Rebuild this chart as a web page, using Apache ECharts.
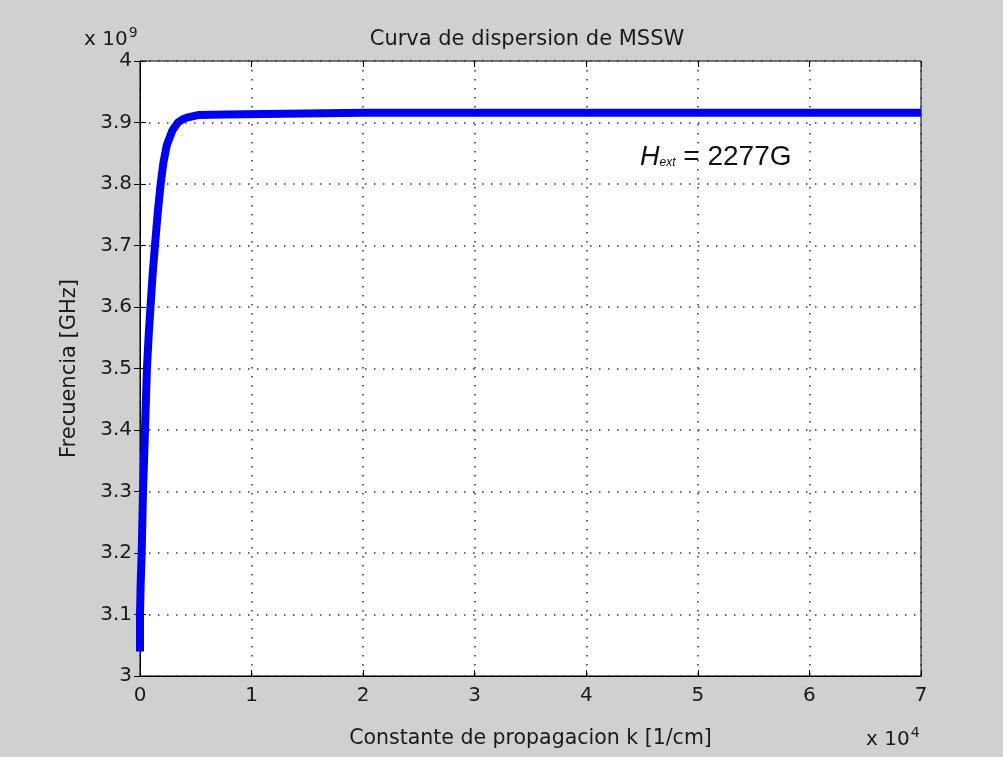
<!DOCTYPE html>
<html>
<head>
<meta charset="utf-8">
<script src="https://cdn.jsdelivr.net/npm/echarts@6/dist/echarts.min.js"></script>
<style>
  html, body { margin: 0; padding: 0; background: #d0d0d0; }
  #chart { width: 1003px; height: 757px; }
</style>
</head>
<body>
<div id="chart"></div>
<script>
// Wave number k [1/cm] and frequency [Hz] along the MSSW dispersion curve
const kValues = [0, 0, 60, 150, 270, 450, 620, 780, 940, 1140, 1340, 1600, 1850, 2100, 2400, 2900, 3400, 3800, 4200, 4700, 5200, 7600, 7650, 20000, 40000, 70000];
const freqValues = [3.04e9, 3.10e9, 3.15e9, 3.20e9, 3.30e9, 3.40e9, 3.50e9, 3.555e9, 3.60e9, 3.655e9, 3.70e9, 3.755e9, 3.80e9, 3.835e9, 3.863e9, 3.887e9, 3.90e9, 3.905e9, 3.908e9, 3.910e9, 3.912e9, 3.913e9, 3.916e9, 3.916e9, 3.916e9, 3.916e9];

const xTickLabels = ['0', '1', '2', '3', '4', '5', '6', '7'];
const yTickLabels = ['3', '3.1', '3.2', '3.3', '3.4', '3.5', '3.6', '3.7', '3.8', '3.9', '4'];

const titleText = 'Curva de dispersion de MSSW';
const xName = 'Constante de propagacion k [1/cm]';
const yName = 'Frecuencia [GHz]';

const FONT = '"DejaVu Sans", sans-serif';
const FONT_NOTE = '"Liberation Sans", Arial, sans-serif';
const chart = echarts.init(document.getElementById('chart'));

const gridLine = { show: true, lineStyle: { color: '#333', type: [1.5, 7.5], width: 1.5 } };
const tick = { show: true, inside: true, length: 6, lineStyle: { color: '#000' } };
const xMin = 0, xMax = 70000, xStep = 10000;
const yMin = 3e9, yMax = 4e9, yStep = 1e8;

chart.setOption({
  backgroundColor: '#d0d0d0',
  animation: false,
  title: {
    text: titleText,
    left: 522, top: 24, textAlign: 'center',
    textStyle: { fontFamily: FONT, fontSize: 21, fontWeight: 'normal', color: '#1a1a1a' }
  },
  grid: {
    left: 140, right: 82, top: 61, bottom: 81,
    show: true, backgroundColor: '#ffffff', borderColor: '#000', borderWidth: 1
  },
  xAxis: [{
    type: 'value', min: xMin, max: xMax, interval: xStep,
    name: xName, nameLocation: 'middle', nameGap: 52,
    nameTextStyle: { fontFamily: FONT, fontSize: 20.5, color: '#1a1a1a' },
    axisLine: { show: true, lineStyle: { color: '#000' } },
    axisTick: tick,
    axisLabel: {
      fontFamily: FONT, fontSize: 20, color: '#1a1a1a', margin: 10,
      formatter: v => xTickLabels[Math.round((v - xMin) / xStep)]
    },
    splitLine: gridLine
  }, {
    type: 'value', min: xMin, max: xMax, interval: xStep, position: 'top',
    axisLine: { show: false }, axisTick: tick,
    axisLabel: { show: false }, splitLine: { show: false }
  }],
  yAxis: [{
    type: 'value', min: yMin, max: yMax, interval: yStep,
    name: yName, nameLocation: 'middle', nameGap: 60,
    nameTextStyle: { fontFamily: FONT, fontSize: 21, color: '#1a1a1a' },
    axisLine: { show: true, lineStyle: { color: '#000' } },
    axisTick: tick,
    axisLabel: {
      fontFamily: FONT, fontSize: 20, color: '#1a1a1a', margin: 8,
      formatter: v => yTickLabels[Math.round((v - yMin) / yStep)]
    },
    splitLine: gridLine
  }, {
    type: 'value', min: yMin, max: yMax, interval: yStep, position: 'right',
    axisLine: { show: false }, axisTick: tick,
    axisLabel: { show: false }, splitLine: { show: false }
  }],
  series: [{
    type: 'line',
    data: kValues.map((k, i) => [k, freqValues[i]]),
    showSymbol: false,
    smooth: false,
    lineStyle: { color: '#0000f0', width: 8, cap: 'butt', join: 'round' },
    z: 3
  }],
  graphic: [
    {
      type: 'text', left: 84, top: 26,
      style: {
        text: '{a|x 10}{s|9}',
        rich: {
          a: { fontFamily: FONT, fontSize: 20, fill: '#1a1a1a' },
          s: { fontFamily: FONT, fontSize: 14, fill: '#1a1a1a', verticalAlign: 'top', padding: [0, 0, 14, 1] }
        }
      }
    },
    {
      type: 'text', left: 866, top: 726,
      style: {
        text: '{a|x 10}{s|4}',
        rich: {
          a: { fontFamily: FONT, fontSize: 20, fill: '#1a1a1a' },
          s: { fontFamily: FONT, fontSize: 14, fill: '#1a1a1a', verticalAlign: 'top', padding: [0, 0, 14, 1] }
        }
      }
    },
    {
      type: 'text', left: 640, top: 143, z: 10,
      style: {
        text: '{h|H}{e|ext}{t| = 2277G}',
        rich: {
          h: { fontFamily: FONT_NOTE, fontSize: 27, fontStyle: 'italic', fill: '#111' },
          e: { fontFamily: FONT_NOTE, fontSize: 12, fontStyle: 'italic', fill: '#111', padding: [12, 0, 0, 0] },
          t: { fontFamily: FONT_NOTE, fontSize: 28, fill: '#111' }
        }
      }
    }
  ]
});
</script>
</body>
</html>
